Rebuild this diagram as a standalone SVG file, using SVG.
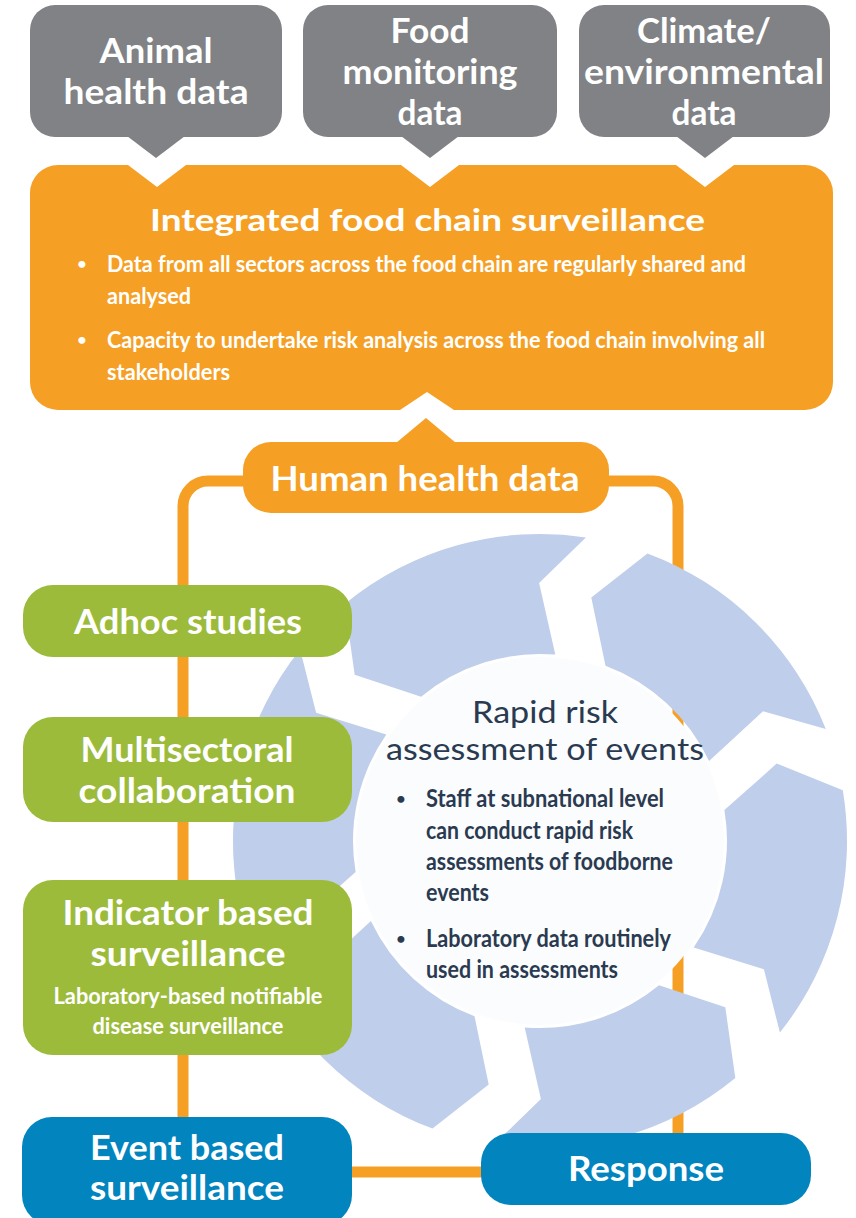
<svg xmlns="http://www.w3.org/2000/svg" width="856" height="1218" viewBox="0 0 856 1218">
  <style>
    .gray { fill: #808285; }
    .orange { fill: #F5A025; }
    .green { fill: #9CBB3B; }
    .blue { fill: #0284BE; }
    .ring { fill: #BFCEEA; }
    .disc { fill: #FBFCFE; }
    .link { fill: none; stroke: #F5A025; stroke-width: 11; }
    text { font-family: Lato, "Open Sans", "Liberation Sans", sans-serif; }
    .lbl { font-weight: 700; fill: #FFFFFF; text-anchor: middle; font-size: 34px; }
    .sub { font-weight: 700; fill: #FFFFFF; text-anchor: middle; font-size: 23px; }
    .bul { font-weight: 700; fill: #FFFFFF; font-size: 23px; }
    .head { font-weight: 400; fill: #2A3A50; text-anchor: middle; font-size: 30px; }
    .dbul { font-weight: 700; fill: #2A3A50; font-size: 24px; }
    .dot { font-weight: 700; font-size: 16px; text-anchor: middle; }
  </style>

  <!-- connector loop: human health data feeding the surveillance boxes -->
  <g id="connectors">
    <path class="link" d="M 183 1172 V 506 A 25 25 0 0 1 208 481 H 653 A 25 25 0 0 1 678 506 V 1172 Z"/>
  </g>

  <!-- cycle of six arrow segments around the risk assessment disc -->
  <g id="cycle">
    <path class="ring" d="M 344.7 604.1 A 307 307 0 0 1 585.9 537.4 L 539.1 583 L 555.3 654.6 A 187 187 0 0 0 421.1 696.7 L 354.7 674.7 Z"/>
    <path class="ring" d="M 647.5 553.4 A 307 307 0 0 1 825.8 729.0 L 763.0 711.2 L 709.1 761.1 A 187 187 0 0 0 605.5 665.8 L 591.3 597.4 Z"/>
    <path class="ring" d="M 842.8 790.3 A 307 307 0 0 1 779.9 1032.5 L 763.9 969.2 L 693.7 947.5 A 187 187 0 0 0 724.4 810.1 L 776.7 763.6 Z"/>
    <path class="ring" d="M 735.3 1077.9 A 307 307 0 0 1 494.1 1144.6 L 540.9 1099 L 524.7 1027.4 A 187 187 0 0 0 659.0 985.3 L 725.3 1007.3 Z"/>
    <path class="ring" d="M 432.5 1128.6 A 307 307 0 0 1 254.2 953.0 L 317.0 970.8 L 370.9 920.9 A 187 187 0 0 0 474.5 1016.2 L 488.7 1084.6 Z"/>
    <path class="ring" d="M 237.2 891.7 A 307 307 0 0 1 300.1 649.5 L 316.1 712.8 L 386.3 734.5 A 187 187 0 0 0 355.6 871.9 L 303.3 918.4 Z"/>
  </g>

  <g id="rapid-risk">
    <circle class="disc" cx="540" cy="841" r="184"/>
    <text class="head" x="545" y="723" textLength="146" lengthAdjust="spacingAndGlyphs">Rapid risk</text>
    <text class="head" x="545" y="760" textLength="318" lengthAdjust="spacingAndGlyphs">assessment of events</text>
    <text class="dot" x="401" y="804" fill="#2A3A50">•</text>
    <text class="dbul" x="426" y="807" textLength="238" lengthAdjust="spacingAndGlyphs">Staff at subnational level</text>
    <text class="dbul" x="426" y="839" textLength="207" lengthAdjust="spacingAndGlyphs">can conduct rapid risk</text>
    <text class="dbul" x="426" y="870" textLength="247" lengthAdjust="spacingAndGlyphs">assessments of foodborne</text>
    <text class="dbul" x="426" y="901" textLength="63" lengthAdjust="spacingAndGlyphs">events</text>
    <text class="dot" x="401" y="944" fill="#2A3A50">•</text>
    <text class="dbul" x="426" y="947" textLength="245" lengthAdjust="spacingAndGlyphs">Laboratory data routinely</text>
    <text class="dbul" x="426" y="978" textLength="192" lengthAdjust="spacingAndGlyphs">used in assessments</text>
  </g>

  <!-- data sources -->
  <g id="animal-health">
    <rect class="gray" x="30" y="5" width="252" height="132" rx="25"/>
    <polygon class="gray" points="127,136 185,136 156,158"/>
    <text class="lbl" x="156" y="63" textLength="113" lengthAdjust="spacingAndGlyphs">Animal</text>
    <text class="lbl" x="156" y="104" textLength="185" lengthAdjust="spacingAndGlyphs">health data</text>
  </g>
  <g id="food-monitoring">
    <rect class="gray" x="303" y="5" width="254" height="132" rx="25"/>
    <polygon class="gray" points="401,136 459,136 430,158"/>
    <text class="lbl" x="430" y="43" textLength="79" lengthAdjust="spacingAndGlyphs">Food</text>
    <text class="lbl" x="430" y="84" textLength="175" lengthAdjust="spacingAndGlyphs">monitoring</text>
    <text class="lbl" x="430" y="125" textLength="65" lengthAdjust="spacingAndGlyphs">data</text>
  </g>
  <g id="climate">
    <rect class="gray" x="579" y="5" width="251" height="132" rx="25"/>
    <polygon class="gray" points="676,136 734,136 705,158"/>
    <text class="lbl" x="704" y="43" textLength="134" lengthAdjust="spacingAndGlyphs">Climate/</text>
    <text class="lbl" x="704" y="84" textLength="240" lengthAdjust="spacingAndGlyphs">environmental</text>
    <text class="lbl" x="704" y="125" textLength="65" lengthAdjust="spacingAndGlyphs">data</text>
  </g>

  <g id="integrated-surveillance">
    <path class="orange" d="M 58 165 H 128 L 157 187 L 186 165 H 401 L 430 187 L 459 165 H 676 L 705 187 L 734 165 H 805 A 28 28 0 0 1 833 193 V 382 A 28 28 0 0 1 805 410 H 454 L 427 392 L 400 410 H 58 A 28 28 0 0 1 30 382 V 193 A 28 28 0 0 1 58 165 Z"/>
    <text class="lbl" x="427.5" y="231" style="font-size:31px" textLength="555" lengthAdjust="spacingAndGlyphs">Integrated food chain surveillance</text>
    <text class="dot" x="82" y="269" fill="#FFFFFF">•</text>
    <text class="bul" x="107" y="272" textLength="639" lengthAdjust="spacingAndGlyphs">Data from all sectors across the food chain are regularly shared and</text>
    <text class="bul" x="107" y="304" textLength="84" lengthAdjust="spacingAndGlyphs">analysed</text>
    <text class="dot" x="82" y="345" fill="#FFFFFF">•</text>
    <text class="bul" x="107" y="348" textLength="658" lengthAdjust="spacingAndGlyphs">Capacity to undertake risk analysis across the food chain involving all</text>
    <text class="bul" x="107" y="380" textLength="123" lengthAdjust="spacingAndGlyphs">stakeholders</text>
  </g>

  <g id="human-health">
    <rect class="orange" x="243" y="442" width="366" height="71" rx="28"/>
    <polygon class="orange" points="396,443 456,443 426,418"/>
    <text class="lbl" x="425" y="491" textLength="309" lengthAdjust="spacingAndGlyphs">Human health data</text>
  </g>

  <!-- surveillance streams -->
  <g id="adhoc-studies">
    <rect class="green" x="23" y="585" width="329" height="72" rx="30"/>
    <text class="lbl" x="188" y="634" textLength="228" lengthAdjust="spacingAndGlyphs">Adhoc studies</text>
  </g>
  <g id="multisectoral">
    <rect class="green" x="23" y="717" width="329" height="105" rx="30"/>
    <text class="lbl" x="187" y="762" textLength="213" lengthAdjust="spacingAndGlyphs">Multisectoral</text>
    <text class="lbl" x="187" y="803" textLength="217" lengthAdjust="spacingAndGlyphs">collaboration</text>
  </g>
  <g id="indicator-based">
    <rect class="green" x="23" y="880" width="329" height="175" rx="30"/>
    <text class="lbl" x="188" y="925" textLength="251" lengthAdjust="spacingAndGlyphs">Indicator based</text>
    <text class="lbl" x="188" y="966" textLength="195" lengthAdjust="spacingAndGlyphs">surveillance</text>
    <text class="sub" x="188" y="1004" textLength="269" lengthAdjust="spacingAndGlyphs">Laboratory-based notifiable</text>
    <text class="sub" x="188" y="1034" textLength="191" lengthAdjust="spacingAndGlyphs">disease surveillance</text>
  </g>
  <g id="event-based">
    <rect class="blue" x="22" y="1117" width="330" height="108" rx="30"/>
    <text class="lbl" x="187" y="1160" textLength="194" lengthAdjust="spacingAndGlyphs">Event based</text>
    <text class="lbl" x="187" y="1200" textLength="194" lengthAdjust="spacingAndGlyphs">surveillance</text>
  </g>
  <g id="response">
    <rect class="blue" x="481" y="1133" width="330" height="72" rx="30"/>
    <text class="lbl" x="646" y="1181" textLength="156" lengthAdjust="spacingAndGlyphs">Response</text>
  </g>
</svg>
